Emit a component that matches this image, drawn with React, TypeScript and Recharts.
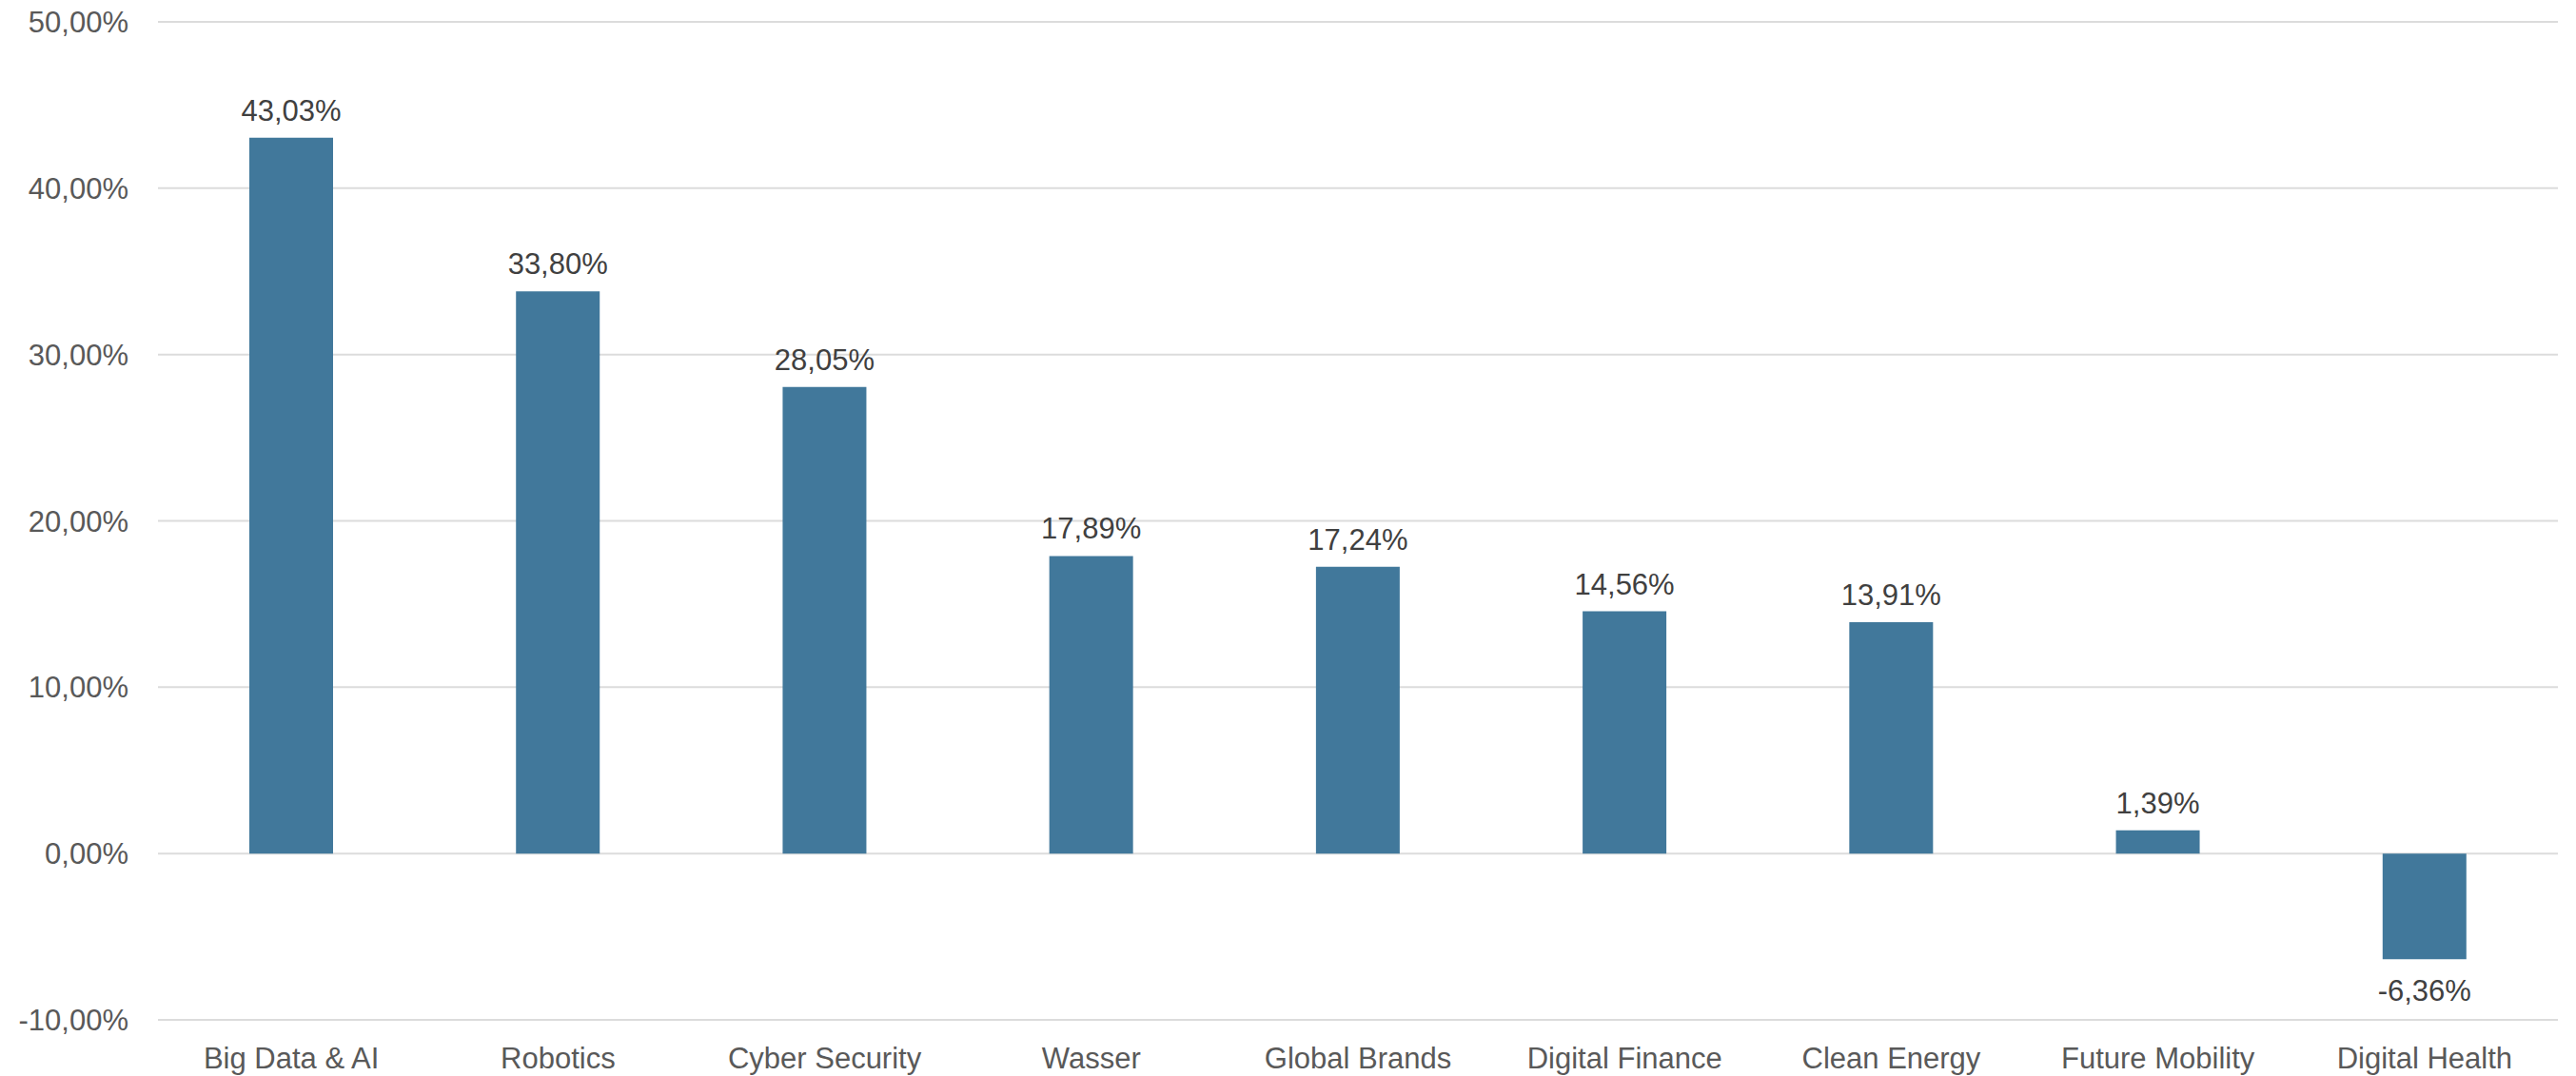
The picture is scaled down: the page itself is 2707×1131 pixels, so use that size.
import React from 'react';
import { BarChart, Bar, XAxis, YAxis, CartesianGrid, LabelList } from 'recharts';

const categories = [
  'Big Data & AI', 'Robotics', 'Cyber Security', 'Wasser', 'Global Brands',
  'Digital Finance', 'Clean Energy', 'Future Mobility', 'Digital Health',
];
const returns = [43.03, 33.8, 28.05, 17.89, 17.24, 14.56, 13.91, 1.39, -6.36];
const yTicks = [-10, 0, 10, 20, 30, 40, 50];

const data = categories.map((name, i) => ({ name, value: returns[i] }));

const FONT = '"Liberation Sans", Arial, Helvetica, sans-serif';
const fmt = (v: number) => `${v.toFixed(2).replace('.', ',')}%`;

function ValueLabel(props: any) {
  const { x, y, width, height, value } = props;
  const top = Math.min(y, y + height);
  const bottom = Math.max(y, y + height);
  const cx = x + width / 2;
  const ty = value >= 0 ? top - 18 : bottom + 44;
  return (
    <text x={cx} y={ty} textAnchor="middle" fontSize={31} fontFamily={FONT} fill="#404040">
      {fmt(value)}
    </text>
  );
}

export default function App() {
  return (
    <div style={{ position: 'absolute', left: 0, top: 0, background: '#fff' }}>
      <BarChart width={2707} height={1131} data={data}
        margin={{ top: 23, right: 19, left: 0, bottom: 0 }}>
        <CartesianGrid vertical={false} stroke="#dcdcdc" strokeWidth={2} />
        <XAxis dataKey="name" interval={0} height={59} axisLine={false} tickLine={false}
          tickSize={0} tickMargin={29}
          tick={{ fontSize: 31, fontFamily: FONT, fill: '#595959' }} />
        <YAxis domain={[-10, 50]} ticks={yTicks} width={166} axisLine={false} tickLine={false}
          tickSize={0} tickMargin={31} tickFormatter={fmt}
          tick={{ fontSize: 31, fontFamily: FONT, fill: '#595959' }} />
        <Bar dataKey="value" fill="#41789b" barSize={88} isAnimationActive={false}>
          <LabelList dataKey="value" content={ValueLabel} />
        </Bar>
      </BarChart>
    </div>
  );
}
